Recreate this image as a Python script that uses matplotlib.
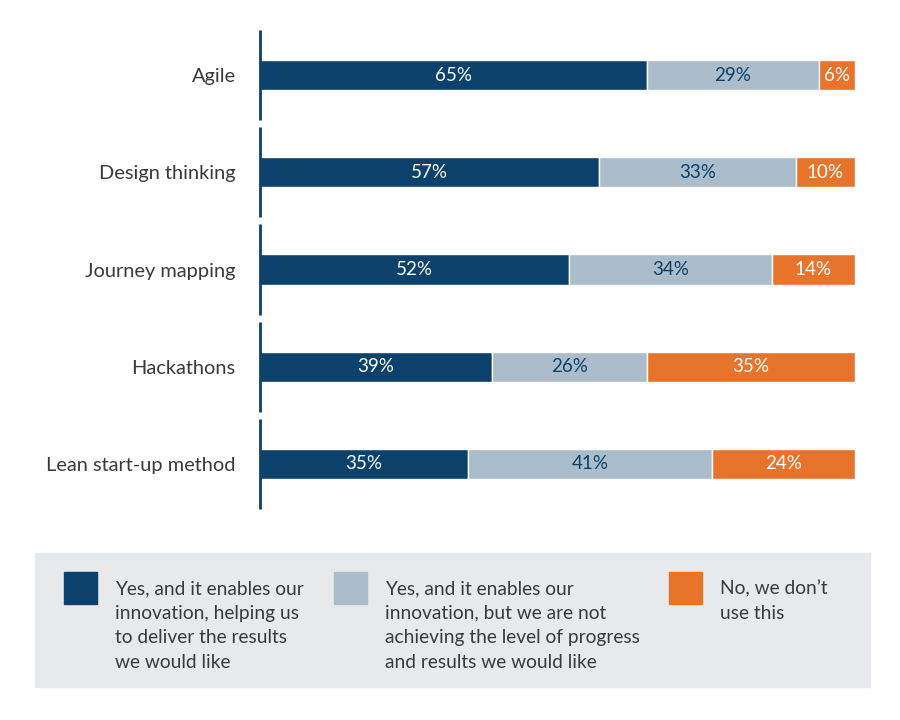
import matplotlib.pyplot as plt
from matplotlib.patches import Rectangle

plt.rcParams["font.family"] = ["Lato", "DejaVu Sans"]

# Data
categories = ["Agile", "Design thinking", "Journey mapping", "Hackathons", "Lean start-up method"]
yes_results = [65, 57, 52, 39, 35]
yes_no_progress = [29, 33, 34, 26, 41]
not_used = [6, 10, 14, 35, 24]

series_labels = [
    "Yes, and it enables our\ninnovation, helping us\nto deliver the results\nwe would like",
    "Yes, and it enables our\ninnovation, but we are not\nachieving the level of progress\nand results we would like",
    "No, we don\u2019t\nuse this",
]
colors = ["#0b416b", "#abbccb", "#e8742c"]
text_colors = ["white", "#0b416b", "white"]

fig = plt.figure(figsize=(9, 7.2), dpi=100)
ax = fig.add_axes([260 / 900, 1 - 512.5 / 720, 595 / 900, 486 / 720])

series = [yes_results, yes_no_progress, not_used]
y = list(range(len(categories)))
left = [0] * len(categories)
for vals, col, tcol in zip(series, colors, text_colors):
    ax.barh(y, vals, left=left, height=0.31, color=col, edgecolor="white", linewidth=1)
    for i, v in enumerate(vals):
        ax.text(left[i] + v / 2, i, f"{v}%", ha="center", va="center",
                color=tcol, fontsize=13.5)
    left = [l + v for l, v in zip(left, vals)]

# segmented axis line
for i in y:
    ax.plot([0, 0], [i - 0.465, i + 0.465], color="#0b416b", lw=2,
            solid_capstyle="butt", clip_on=False)

ax.set_xlim(0, 100)
ax.set_ylim(len(categories) - 0.5, -0.5)
ax.set_yticks(y)
ax.set_yticklabels(categories, fontsize=14.4, color="#3a3a3a")
ax.tick_params(axis="y", length=0, pad=17.5)
ax.set_xticks([])
for s in ax.spines.values():
    s.set_visible(False)

# Legend box
fig.patches.append(Rectangle((35 / 900, 1 - 687 / 720), 835 / 900, 134 / 720,
                             transform=fig.transFigure, color="#e8e9eb", zorder=0))
sq_x = [64, 334, 669]
txt_x = [115, 385, 720]
for sx, tx, col, lab in zip(sq_x, txt_x, colors, series_labels):
    fig.patches.append(Rectangle((sx / 900, 1 - 604 / 720), 33 / 900, 32 / 720,
                                 transform=fig.transFigure, color=col, zorder=1))
    fig.text(tx / 900, 1 - 580 / 720, lab, ha="left", va="top", fontsize=13.8,
             color="#3a3a3a", linespacing=1.55)

fig.savefig("out.png", dpi=100)
